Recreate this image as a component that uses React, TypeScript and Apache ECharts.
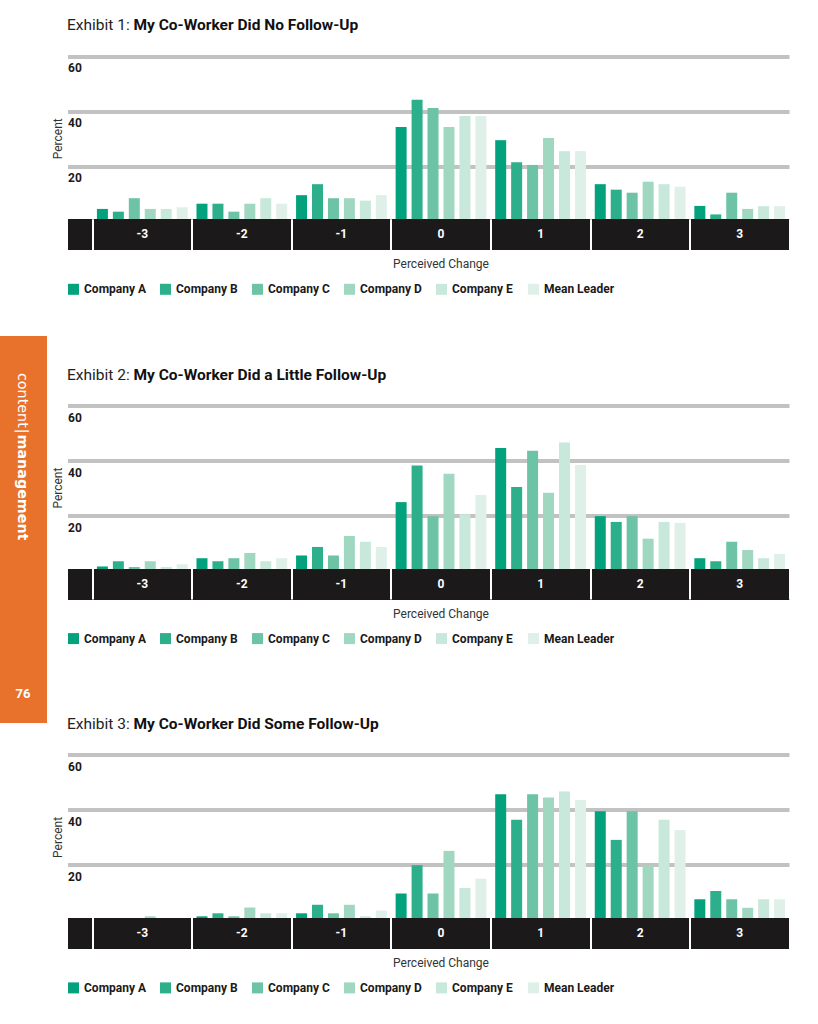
import React, { useEffect, useRef } from 'react';
import * as echarts from 'echarts';

const categories = ['-3', '-2', '-1', '0', '1', '2', '3'];
const seriesNames = ['Company A', 'Company B', 'Company C', 'Company D', 'Company E', 'Mean Leader'];
const seriesColors = ['#03a27c', '#2daf8c', '#6dc3a5', '#a0d7c1', '#c7e8da', '#dff0e8'];
const yTickValues = [0, 20, 40, 60];

const exhibitLabels = ['Exhibit 1: ', 'Exhibit 2: ', 'Exhibit 3: '];
const exhibitTitles = [
  'My Co-Worker Did No Follow-Up',
  'My Co-Worker Did a Little Follow-Up',
  'My Co-Worker Did Some Follow-Up',
];

// Exhibit 1: No Follow-Up
const e1CompanyA = [4.5, 6.4, 9.5, 34.3, 29.5, 13.5, 5.6];
const e1CompanyB = [3.5, 6.4, 13.5, 44.2, 21.5, 11.5, 2.5];
const e1CompanyC = [8.4, 3.5, 8.4, 41.2, 20.5, 10.4, 10.4];
const e1CompanyD = [4.5, 6.4, 8.4, 34.3, 30.3, 14.4, 4.5];
const e1CompanyE = [4.5, 8.4, 7.5, 38.3, 25.5, 13.5, 5.5];
const e1MeanLeader = [5.1, 6.4, 9.5, 38.3, 25.5, 12.6, 5.5];

// Exhibit 2: A Little Follow-Up
const e2CompanyA = [1.5, 4.5, 5.5, 24.9, 44.6, 19.8, 4.5];
const e2CompanyB = [3.4, 3.4, 8.6, 38.2, 30.4, 17.7, 3.4];
const e2CompanyC = [1.3, 4.5, 5.5, 19.8, 43.6, 19.8, 10.5];
const e2CompanyD = [3.4, 6.4, 12.6, 35.2, 28.3, 11.6, 7.5];
const e2CompanyE = [1.3, 3.4, 10.5, 20.5, 46.6, 17.7, 4.5];
const e2MeanLeader = [2.3, 4.5, 8.6, 27.5, 38.4, 17.3, 6.1];

// Exhibit 3: Some Follow-Up
const e3CompanyA = [0, 1.3, 2.4, 9.6, 45.7, 39.5, 7.5];
const e3CompanyB = [0, 2.4, 5.5, 19.9, 36.4, 29.1, 10.5];
const e3CompanyC = [0, 1.3, 2.4, 9.6, 45.7, 39.5, 7.5];
const e3CompanyD = [1.3, 4.5, 5.5, 25.1, 44.5, 19.9, 4.4];
const e3CompanyE = [0, 2.4, 1.3, 11.6, 46.7, 36.4, 7.5];
const e3MeanLeader = [0, 2.4, 3.4, 15.0, 43.6, 32.7, 7.5];

const exhibitData = [
  [e1CompanyA, e1CompanyB, e1CompanyC, e1CompanyD, e1CompanyE, e1MeanLeader],
  [e2CompanyA, e2CompanyB, e2CompanyC, e2CompanyD, e2CompanyE, e2MeanLeader],
  [e3CompanyA, e3CompanyB, e3CompanyC, e3CompanyD, e3CompanyE, e3MeanLeader],
];

const FONT = 'Roboto, "DejaVu Sans", sans-serif';
const SIDE_FONT = '"DejaVu Sans", Roboto, sans-serif';

export default function App() {
  const ref = useRef<HTMLDivElement>(null);

  useEffect(() => {
    if (!ref.current) return;
    const chart = echarts.init(ref.current, null, { renderer: 'svg' });

    const tops = [56.3, 405.6, 754.9];
    const gridH = 165;
    const legendStep = 92;
    const grids: any[] = [];
    const xAxes: any[] = [];
    const yAxes: any[] = [];
    const series: any[] = [];
    const titles: any[] = [];
    const legends: any[] = [];

    exhibitData.forEach((data, i) => {
      const top = tops[i];
      const gA = 2 * i;
      const gB = 2 * i + 1;
      grids.push({ left: 68, width: 721.5, top, height: gridH });
      grids.push({ left: 92.5, width: 697, top, height: gridH });

      xAxes.push({
        gridIndex: gA,
        type: 'category',
        data: [''],
        z: 5,
        offset: 13.4,
        axisLine: { show: true, onZero: false, lineStyle: { color: '#1b1919', width: 31, cap: 'butt' } },
        axisTick: { show: false },
        axisLabel: { show: false },
        splitLine: { show: false },
      });
      xAxes.push({
        gridIndex: gB,
        type: 'category',
        data: categories,
        z: 6,
        offset: -2,
        axisLine: { show: false, onZero: false },
        axisTick: { show: true, interval: 0, length: 31, lineStyle: { color: '#ffffff', width: 2, cap: 'butt' } },
        axisLabel: {
          interval: 0,
          color: '#ffffff',
          fontWeight: 'bold',
          fontSize: 12,
          fontFamily: FONT,
          margin: 9,
        },
        name: 'Perceived Change',
        nameLocation: 'middle',
        nameGap: 39,
        nameTextStyle: { color: '#333333', fontSize: 12, fontFamily: FONT },
      });

      yAxes.push({
        gridIndex: gA,
        type: 'value',
        min: yTickValues[0],
        max: yTickValues[yTickValues.length - 1],
        interval: yTickValues[1] - yTickValues[0],
        axisLine: { show: false },
        axisTick: { show: false },
        splitLine: { show: true, lineStyle: { color: '#c2c2c2', width: 4 } },
        axisLabel: {
          inside: true,
          margin: 0,
          align: 'left',
          verticalAlign: 'top',
          padding: [6, 0, 0, 0],
          fontWeight: 'bold',
          fontSize: 12,
          fontFamily: FONT,
          color: '#1a1a1a',
          formatter: (v: number) => (v === 0 ? '' : String(v)),
        },
        name: 'Percent',
        nameLocation: 'middle',
        nameRotate: 90,
        nameGap: 4,
        nameMoveOverlap: false,
        nameTextStyle: { color: '#333333', fontSize: 12, fontFamily: FONT },
      });
      yAxes.push({
        gridIndex: gB,
        type: 'value',
        min: yTickValues[0],
        max: yTickValues[yTickValues.length - 1],
        interval: yTickValues[1] - yTickValues[0],
        show: false,
        splitLine: { show: false },
      });

      data.forEach((values, k) => {
        series.push({
          type: 'bar',
          name: seriesNames[k],
          xAxisIndex: gB,
          yAxisIndex: gB,
          data: values,
          barWidth: 11,
          barGap: '45%',
          itemStyle: { color: seriesColors[k] },
        });
      });

      titles.push({
        left: 67,
        top: top - 39,
        padding: 0,
        text: `{r|${exhibitLabels[i]}}{b|${exhibitTitles[i]}}`,
        textStyle: {
          rich: {
            r: { fontSize: 15.5, fontFamily: FONT, color: '#222222', fontWeight: 'normal' },
            b: { fontSize: 15.5, fontFamily: FONT, color: '#111111', fontWeight: 'bold' },
          },
        },
      });

      seriesNames.forEach((name, k) => {
        legends.push({
          left: 68 + legendStep * k,
          top: top + 227,
          padding: 0,
          icon: 'rect',
          itemWidth: 11,
          itemHeight: 11,
          selectedMode: false,
          data: [name],
          textStyle: {
            fontSize: 12,
            fontWeight: 'bold',
            fontFamily: FONT,
            color: '#1a1a1a',
          },
        });
      });
    });

    chart.setOption({
      animation: false,
      backgroundColor: '#ffffff',
      color: seriesColors,
      title: titles,
      legend: legends,
      grid: grids,
      xAxis: xAxes,
      yAxis: yAxes,
      series,
      graphic: [
        {
          type: 'rect',
          shape: { x: 0, y: 336, width: 47, height: 387 },
          style: { fill: '#e8722c' },
          z: 10,
        },
        {
          type: 'text',
          x: 23,
          y: 373,
          rotation: -Math.PI / 2,
          z: 11,
          style: {
            text: '{l|content}{s||}{b|management}',
            align: 'left',
            verticalAlign: 'middle',
            rich: {
              l: { fontSize: 14.3, fontFamily: SIDE_FONT, fill: '#ffffff', fontWeight: 'normal' },
              s: { fontSize: 14.3, fontFamily: SIDE_FONT, fill: '#ffffff', fontWeight: 'normal', padding: [0, 1, 0, 1] },
              b: { fontSize: 14.3, fontFamily: SIDE_FONT, fill: '#ffffff', fontWeight: 'bold' },
            },
          },
        },
        {
          type: 'text',
          x: 23,
          y: 693,
          z: 11,
          style: {
            text: '76',
            align: 'center',
            verticalAlign: 'middle',
            fontSize: 13,
            fontWeight: 'bold',
            fontFamily: FONT,
            fill: '#ffffff',
          },
        },
      ],
    });

    return () => chart.dispose();
  }, []);

  return (
    <div
      ref={ref}
      style={{ position: 'absolute', left: 0, top: 0, width: 818, height: 1024 }}
    />
  );
}
